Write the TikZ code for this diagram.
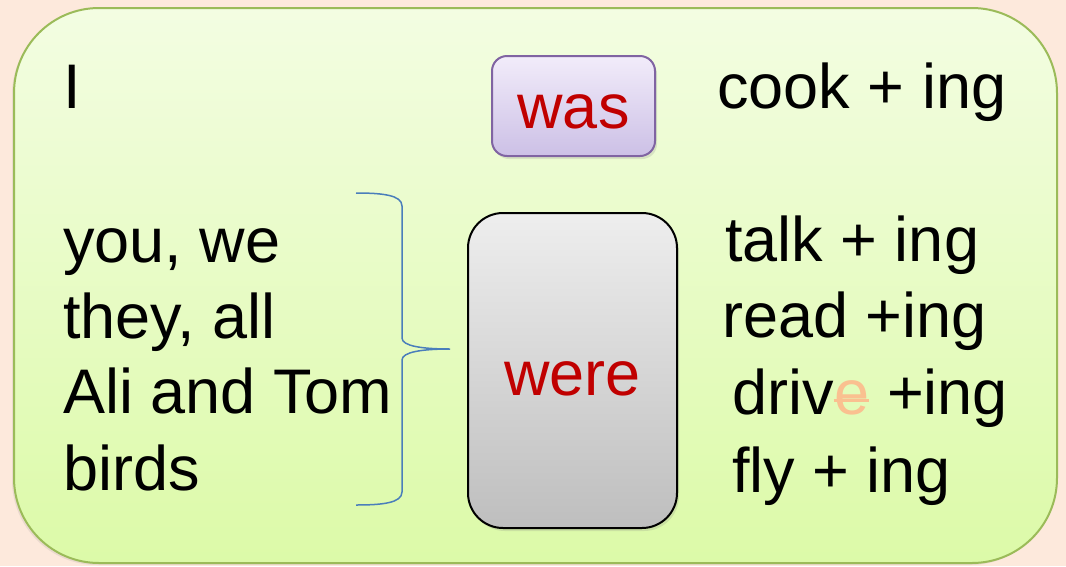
\documentclass[tikz,border=0pt]{standalone}
\usepackage{fontspec}
\setmainfont{Liberation Sans}
\usepackage{tikz}
\usetikzlibrary{positioning, shadows}
\definecolor{peachbg}{RGB}{253,233,220}
\definecolor{panelgreen}{RGB}{155,187,89}
\definecolor{paneltop}{RGB}{243,253,226}
\definecolor{panelbottom}{RGB}{220,250,168}
\definecolor{wastop}{RGB}{242,236,250}
\definecolor{wasbottom}{RGB}{204,192,230}
\definecolor{wasborder}{RGB}{128,100,162}
\definecolor{weretop}{RGB}{238,238,238}
\definecolor{werebottom}{RGB}{190,190,190}
\definecolor{verbred}{RGB}{192,0,0}
\definecolor{braceblue}{RGB}{74,126,187}
\definecolor{silentpeach}{RGB}{250,192,144}
\newcommand{\bigfont}{\fontsize{63}{75}\selectfont}

\begin{document}
\begin{tikzpicture}[x=1pt, y=-1pt,
    word/.style={font=\bigfont, inner sep=0pt, anchor=base west},
    verbbox/.style={rectangle, draw, line width=2pt, font=\bigfont, text=verbred,
        drop shadow={shadow xshift=2pt, shadow yshift=-3pt, opacity=0.2}}]
    \useasboundingbox (0,0) rectangle (1066,566);
    \fill[peachbg] (0,0) rectangle (1066,566);

    % Panel
    \draw[panelgreen, line width=2pt, rounded corners=85pt, top color=paneltop, bottom color=panelbottom,
        drop shadow={shadow xshift=-2pt, shadow yshift=-2pt, opacity=0.15}] (14,8) rectangle (1057,563);

    % Subjects
    \node[word] (pronI) at (63,108) {I};
    \node[word] (you) at (63,262) {you, we};
    \node[word] (they) at (63,338) {they, all};
    \node[word] (ali) at (63,413) {Ali and Tom};
    \node[word] (birds) at (63,490) {birds};

    % Brace
    \draw[braceblue, line width=1.5pt] (356,193) .. controls (382,193) and (402,195) .. (402,206)
        -- (402,338) .. controls (402,346) and (422,349) .. (450,349)
        .. controls (422,349) and (402,352) .. (402,360)
        -- (402,492) .. controls (402,503) and (382,505) .. (356,505);

    % Verbs
    \node[verbbox, draw=wasborder, top color=wastop, bottom color=wasbottom, rounded corners=15pt,
        minimum width=163pt, minimum height=100pt, text height=46pt] (was) at (573.5,106) {was};
    \node[verbbox, draw=black, top color=weretop, bottom color=werebottom, rounded corners=35pt,
        minimum width=209pt, minimum height=315pt, text height=50pt] (were) at (572.5,370.5) {were};

    % Verb + ing
    \node[word] (cook) at (717,108) {cook + ing};
    \node[word] (talk) at (725,261) {talk + ing};
    \node[word] (read) at (722,337) {read +ing};
    \node[word] (driv) at (732,414) {driv};
    \node[word, text=silentpeach] (silente) at (driv.base east) {e};
    \node[word] (driveing) at (silente.base east) {\ +ing};
    \node[word] (fly) at (732,492) {fly + ing};

    % Strike
    \draw[silentpeach, line width=3pt] ([yshift=14pt]silente.base west) -- ([yshift=14pt]silente.base east);
\end{tikzpicture}
\end{document}
